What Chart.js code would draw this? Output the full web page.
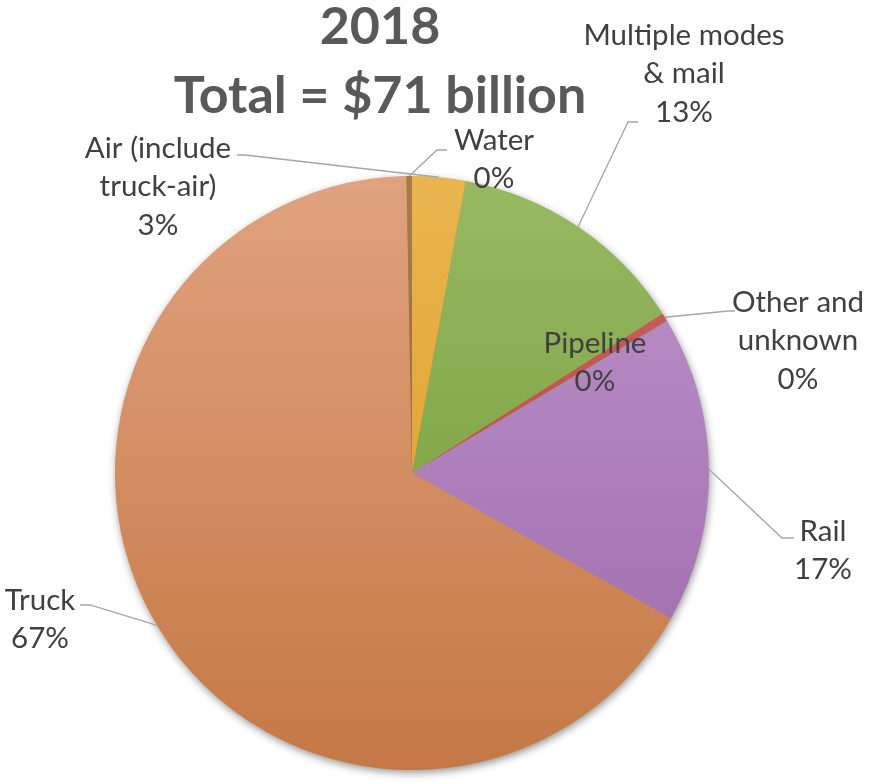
<!DOCTYPE html>
<html>
<head>
<meta charset="utf-8">
<script src="https://cdn.jsdelivr.net/npm/chart.js@4/dist/chart.umd.min.js"></script>
<style>
    html, body { margin: 0; padding: 0; background: #fff; }
    #wrap { width: 871px; height: 782px; }
</style>
</head>
<body>
<div id="wrap"><canvas id="modeChart" width="871" height="782"></canvas></div>
<script>
// 2018 value by mode, share of total (percent)
const titleLines = ['2018', 'Total = $71 billion'];
const modes = ['Air (include\ntruck-air)', 'Multiple modes\n& mail', 'Other and\nunknown', 'Pipeline', 'Rail', 'Truck', 'Water'];
const shares = [2.9, 13.1, 0.45, 0.02, 16.7, 66.6, 0.3];
const topColors = ['#eab44f', '#98b962', '#cb625d', '#4bacc6', '#bf94cc', '#e0a27f', '#a87c47'];
const bottomColors = ['#d9991f', '#6d9834', '#b5413d', '#2f8aa6', '#9b69a9', '#c57844', '#8b6230'];

// where each label sits: text centre x, first line y, leader elbow (null = no leader)
const labelLayout = [
    { x: 158, y: 148, elbow: [245, 155], end: [237, 155] },
    { x: 684, y: 35, elbow: [628, 122], end: [638, 122] },
    { x: 798, y: 302, elbow: [728, 311], end: [735, 311] },
    { x: 595, y: 343, elbow: null },
    { x: 823, y: 531, elbow: [782, 538], end: [794, 538] },
    { x: 40, y: 600, elbow: [90, 605], end: [80, 605] },
    { x: 494, y: 140, elbow: [437, 150], end: [447, 150] },
];

const FONT = 'Lato, "Open Sans", sans-serif';
const total = shares.reduce((a, b) => a + b, 0);

function sliceFill(ctx) {
    const area = ctx.chart.chartArea;
    const i = ctx.dataIndex;
    if (!area) {
        return topColors[i];
    }
    const g = ctx.chart.ctx.createLinearGradient(0, area.top, 0, area.bottom);
    g.addColorStop(0, topColors[i]);
    g.addColorStop(1, bottomColors[i]);
    return g;
}

const pieShadow = {
    id: 'pieShadow',
    beforeDatasetsDraw(chart) {
        const arc = chart.getDatasetMeta(0).data[0];
        if (!arc) {
            return;
        }
        const { x, y, outerRadius } = arc.getProps(['x', 'y', 'outerRadius'], true);
        const ctx = chart.ctx;
        ctx.save();
        ctx.shadowColor = 'rgba(0,0,0,0.45)';
        ctx.shadowBlur = 9;
        ctx.shadowOffsetX = 1;
        ctx.shadowOffsetY = 3;
        ctx.fillStyle = '#d08a5c';
        ctx.beginPath();
        ctx.arc(x, y, outerRadius - 0.5, 0, Math.PI * 2);
        ctx.fill();
        ctx.restore();
    },
};

const leaderLabels = {
    id: 'leaderLabels',
    afterDatasetsDraw(chart) {
        const ctx = chart.ctx;
        const arcs = chart.getDatasetMeta(0).data;
        ctx.save();
        arcs.forEach((arc, i) => {
            const layout = labelLayout[i];
            const p = arc.getProps(['x', 'y', 'startAngle', 'endAngle', 'outerRadius'], true);
            if (layout.elbow) {
                const mid = (p.startAngle + p.endAngle) / 2;
                const ax = p.x + Math.cos(mid) * p.outerRadius;
                const ay = p.y + Math.sin(mid) * p.outerRadius;
                ctx.strokeStyle = '#a6a6a6';
                ctx.lineWidth = 1.3;
                ctx.beginPath();
                ctx.moveTo(ax, ay);
                ctx.lineTo(layout.elbow[0], layout.elbow[1]);
                ctx.lineTo(layout.end[0], layout.end[1]);
                ctx.stroke();
            }
            const lines = modes[i].split('\n');
            lines.push(Math.round(shares[i] / total * 100) + '%');
            ctx.fillStyle = '#404040';
            ctx.font = '29.5px ' + FONT;
            ctx.textAlign = 'center';
            ctx.textBaseline = 'middle';
            lines.forEach((line, k) => {
                ctx.fillText(line, layout.x, layout.y + k * 38.5);
            });
        });
        ctx.restore();
    },
};

const titleDraw = {
    id: 'titleDraw',
    afterDraw(chart) {
        const ctx = chart.ctx;
        ctx.save();
        ctx.fillStyle = '#595959';
        ctx.font = 'bold 52px ' + FONT;
        ctx.textAlign = 'center';
        ctx.textBaseline = 'alphabetic';
        titleLines.forEach((line, k) => {
            ctx.fillText(line, 380, 44 + k * 69);
        });
        ctx.restore();
    },
};

new Chart(document.getElementById('modeChart'), {
    type: 'pie',
    data: {
        labels: modes,
        datasets: [{
            data: shares,
            backgroundColor: sliceFill,
            borderWidth: 0,
        }],
    },
    options: {
        responsive: false,
        animation: false,
        rotation: 0,
        layout: {
            padding: { top: 176, bottom: 12, left: 115, right: 162 },
        },
        plugins: {
            legend: { display: false },
            tooltip: { enabled: false },
            title: { display: false },
        },
    },
    plugins: [pieShadow, leaderLabels, titleDraw],
});
</script>
</body>
</html>
